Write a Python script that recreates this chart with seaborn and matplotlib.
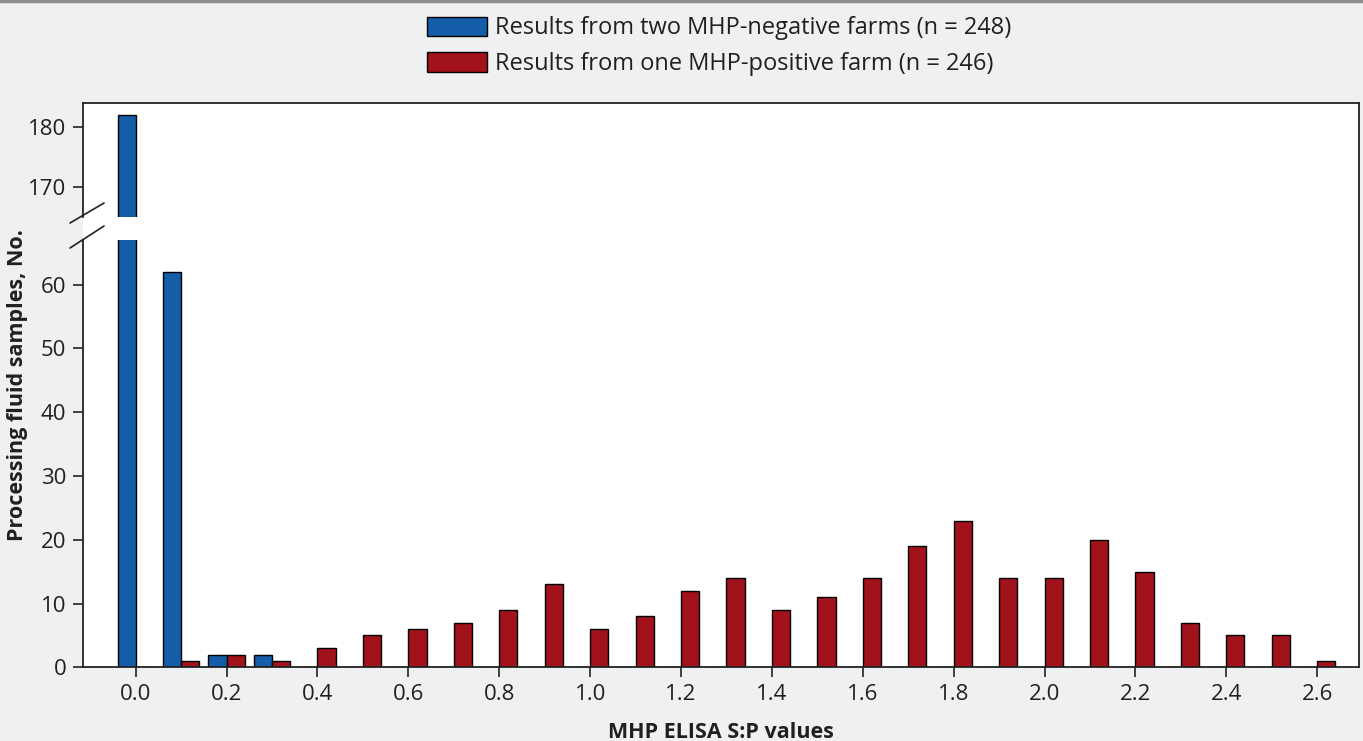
import matplotlib
matplotlib.use("Agg")
import matplotlib.pyplot as plt
from matplotlib.lines import Line2D
import seaborn as sns
import pandas as pd

# S:P value bins and sample counts
sp_bins = ["0.0", "0.1", "0.2", "0.3", "0.4", "0.5", "0.6", "0.7", "0.8", "0.9",
           "1.0", "1.1", "1.2", "1.3", "1.4", "1.5", "1.6", "1.7", "1.8", "1.9",
           "2.0", "2.1", "2.2", "2.3", "2.4", "2.5", "2.6"]
negative_counts = [182, 62, 2, 2, 0, 0, 0, 0, 0, 0,
                   0, 0, 0, 0, 0, 0, 0, 0, 0, 0,
                   0, 0, 0, 0, 0, 0, 0]
positive_counts = [0, 1, 2, 1, 3, 5, 6, 7, 9, 13,
                   6, 8, 12, 14, 9, 11, 14, 19, 23, 14,
                   14, 20, 15, 7, 5, 5, 1]
series_names = ["Results from two MHP-negative farms (n = 248)",
                "Results from one MHP-positive farm (n = 246)"]
series_colors = ["#135da9", "#a1121a"]
y_ticks_low = [0, 10, 20, 30, 40, 50, 60]
y_ticks_high = [170, 180]

df = pd.DataFrame({
    "bin": sp_bins * 2,
    "count": negative_counts + positive_counts,
    "group": [series_names[0]] * len(sp_bins) + [series_names[1]] * len(sp_bins),
})

sns.set_style("ticks")
plt.rcParams["font.family"] = ["Open Sans", "DejaVu Sans"]
bg_color = "#eff0f2"
txt_color = "#231f20"

W, H = 1363, 741
fig = plt.figure(figsize=(W / 100, H / 100), dpi=100, facecolor=bg_color)

def fx(px):
    return px / W

def fy(py):
    return 1 - py / H

left, right = 83, 1359
top_hi, bot_hi = 103, 216.7
top_lo, bot_lo = 240, 667.3

# white plotting area behind both halves (gives the white break band)
bg = fig.add_axes([fx(left), fy(bot_lo), fx(right - left), (bot_lo - top_hi) / H])
bg.set_facecolor("white")
bg.set_xticks([])
bg.set_yticks([])
for s in ["left", "top", "bottom"]:
    bg.spines[s].set_visible(False)
bg.spines["right"].set_color("#222222")
bg.spines["right"].set_linewidth(1.3)

ax_hi = fig.add_axes([fx(left), fy(bot_hi), fx(right - left), (bot_hi - top_hi) / H])
ax_lo = fig.add_axes([fx(left), fy(bot_lo), fx(right - left), (bot_lo - top_lo) / H])

palette = dict(zip(series_names, series_colors))
for ax in (ax_hi, ax_lo):
    ax.set_facecolor("none")
    sns.barplot(data=df, x="bin", y="count", hue="group", hue_order=series_names,
                order=sp_bins, palette=palette, saturation=1, width=0.8,
                edgecolor="black", linewidth=1.0, ax=ax)
    ax.set_xlim(-1.16, 26.92)
    ax.set_xlabel("")
    ax.set_ylabel("")
    ax.spines["right"].set_visible(False)
    for s in ["left", "top", "bottom"]:
        ax.spines[s].set_color("#222222")
        ax.spines[s].set_linewidth(1.3)
    ax.tick_params(axis="both", direction="out", length=7, width=1.2,
                   color="#222222", labelsize=16, labelcolor=txt_color, pad=5)

handles, labels = ax_lo.get_legend_handles_labels()
for ax in (ax_hi, ax_lo):
    if ax.get_legend() is not None:
        ax.get_legend().remove()

ax_hi.set_ylim(165, 184)
ax_hi.set_yticks(y_ticks_high)
ax_hi.spines["bottom"].set_visible(False)
ax_hi.tick_params(axis="x", bottom=False, labelbottom=False)

ax_lo.set_ylim(0, 67)
ax_lo.set_yticks(y_ticks_low)
ax_lo.spines["top"].set_visible(False)
ax_lo.set_xticks(range(0, len(sp_bins), 2))
ax_lo.set_xticklabels(sp_bins[::2])
ax_lo.set_xlabel("MHP ELISA S:P values", fontsize=15.5, fontweight="bold",
                 color=txt_color, labelpad=12)

fig.text(fx(18), fy(385), "Processing fluid samples, No.", rotation=90,
         ha="center", va="center", fontsize=15.5, fontweight="bold", color=txt_color)

# axis break marks
for (x0, y0, x1, y1) in [(70, 223, 104, 203), (70, 248, 104, 226)]:
    fig.add_artist(Line2D([fx(x0), fx(x1)], [fy(y0), fy(y1)], color="#222222", lw=1.2))

# grey rule at the very top
fig.add_artist(Line2D([0, 1], [fy(1.2), fy(1.2)], color="#8c8c8c", lw=2.5))

fig.legend(handles, labels, loc="upper center", bbox_to_anchor=(fx(719), fy(7)),
           borderaxespad=0, frameon=False, fontsize=17, handlelength=2.55,
           handleheight=0.9, handletextpad=0.3, labelspacing=0.5,
           labelcolor=txt_color)

fig.savefig("out.png", dpi=100, facecolor=bg_color)
